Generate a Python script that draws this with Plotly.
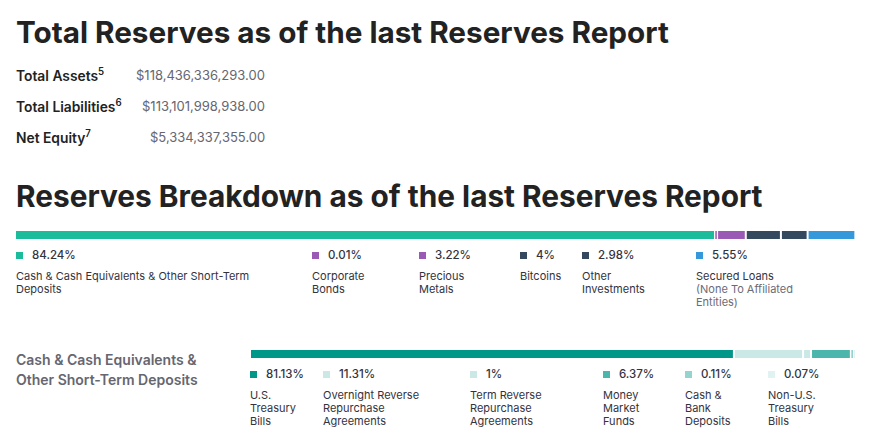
import numpy as np
import plotly.graph_objects as go

# page body has an 8px margin, so the figure is placed at (8, 8)
OFF = 8
W, H = 875 - 2 * OFF, 446 - 2 * OFF

# ---------------- data ----------------
summary_labels = ["Total Assets", "Total Liabilities", "Net Equity"]
summary_notes = ["5", "6", "7"]
summary_values = ["$118,436,336,293.00", "$113,101,998,938.00", "$5,334,337,355.00"]

breakdown_labels = [
    "Cash & Cash Equivalents & Other Short-Term\nDeposits",
    "Corporate\nBonds",
    "Precious\nMetals",
    "Bitcoins",
    "Other\nInvestments",
    "Secured Loans\n(None To Affiliated\nEntities)",
]
breakdown_values = [84.24, 0.01, 3.22, 4, 2.98, 5.55]

cash_labels = [
    "U.S.\nTreasury\nBills",
    "Overnight Reverse\nRepurchase\nAgreements",
    "Term Reverse\nRepurchase\nAgreements",
    "Money\nMarket\nFunds",
    "Cash &\nBank\nDeposits",
    "Non-U.S.\nTreasury\nBills",
]
cash_values = [81.13, 11.31, 1, 6.37, 0.11, 0.07]

# ---------------- styles ----------------
breakdown_colors = ["#1abc9c", "#9b59b6", "#9b59b6", "#34495e", "#34495e", "#3498db"]
cash_colors = ["#009688", "#c9e8e6", "#c9e8e6", "#4db6ac", "#95d3ce", "#e0f2f1"]
breakdown_legend_x = [16, 312, 419, 520, 582, 696]
cash_legend_x = [250, 323, 470, 603, 685, 768]

FONT = "Inter"
DARK = "#222222"
TEXT = "#333340"
GRAY = "#666670"
GAP_PX = 2  # white gap between bar segments


def py(y):
    return 1 - (y - OFF) / H


def px(x):
    return (x - OFF) / W


fig = go.Figure()
layout_axes = {}


def seg_bar(values, labels, colors, ax, x0_px, fill_px, y_top, y_bot):
    """Segmented bar: segments are proportional, separated by fixed pixel gaps."""
    xa = "x" if ax == 1 else f"x{ax}"
    ya = "y" if ax == 1 else f"y{ax}"
    gap_u = GAP_PX / fill_px * 100.0
    n = len(values)
    vals = np.array(values, dtype=float)
    bases = np.concatenate([[0], np.cumsum(vals)[:-1]]) + np.arange(n) * gap_u
    total_u = 100.0 + (n - 1) * gap_u
    total_px = fill_px + (n - 1) * GAP_PX
    for lab, v, b, c in zip(labels, vals, bases, colors):
        tiny = v < 0.5
        fig.add_trace(go.Bar(
            x=[v], base=[b], y=[0], orientation="h", xaxis=xa, yaxis=ya,
            marker=dict(color=c, line=dict(color=c, width=1 if tiny else 0)),
            width=1, name=lab.replace("\n", " "), showlegend=False,
            hovertemplate="%{x}%<extra>" + lab.replace("\n", " ") + "</extra>",
        ))
    common = dict(showgrid=False, zeroline=False, showticklabels=False, fixedrange=True)
    key = "" if ax == 1 else str(ax)
    layout_axes["xaxis" + key] = dict(domain=[px(x0_px), px(x0_px + total_px)],
                                      range=[0, total_u], anchor=ya, **common)
    layout_axes["yaxis" + key] = dict(domain=[py(y_bot), py(y_top)],
                                      range=[-0.5, 0.5], anchor=xa, **common)


seg_bar(breakdown_values, breakdown_labels, breakdown_colors, 1, 16, 828.6, 231, 239)
seg_bar(cash_values, cash_labels, cash_colors, 2, 251, 594, 350, 358)

ann = []
shapes = []


def text(x, y, s, size=11, color=TEXT, weight=400, anchor="left"):
    ann.append(dict(
        x=px(x), y=py(y), xref="paper", yref="paper", text=s, showarrow=False,
        xanchor=anchor, yanchor="middle", borderpad=0, borderwidth=0,
        font=dict(family=FONT, size=size, color=color, weight=weight),
    ))


# titles
text(16, 32, "Total Reserves as of the last Reserves Report", size=29.7, color=DARK, weight=700)
text(16, 196, "Reserves Breakdown as of the last Reserves Report", size=29.8, color=DARK, weight=700)

# summary rows
for i, (l, n, v) in enumerate(zip(summary_labels, summary_notes, summary_values)):
    y = 75 + i * 31
    text(16, y, f"{l}<sup>{n}</sup>", size=13.8, color=DARK, weight=600)
    text(265, y, v, size=13, color=GRAY, anchor="right")


def legend(xs, labels, values, colors, sq_y, pct_y, line_y0, pct_dx):
    for x, l, v, c in zip(xs, labels, values, colors):
        shapes.append(dict(type="rect", xref="paper", yref="paper",
                           x0=px(x), x1=px(x + 7), y0=py(sq_y + 7), y1=py(sq_y),
                           fillcolor=c, line=dict(width=0)))
        text(x + pct_dx, pct_y, f"{v:g}%", size=11.5, color=TEXT, weight=500)
        for j, line in enumerate(l.split("\n")):
            col = TEXT
            if line.startswith("(") or line.startswith("Entities"):
                col = "#6b6b78"
            text(x, line_y0 + 13 * j, line, size=11, color=col)


legend(breakdown_legend_x, breakdown_labels, breakdown_values, breakdown_colors, 252, 255, 276, 16)
legend(cash_legend_x, cash_labels, cash_values, cash_colors, 371, 374, 395, 16)

# section label
text(16, 359, "Cash & Cash Equivalents &", size=14, color=GRAY, weight=600)
text(16, 379, "Other Short-Term Deposits", size=14, color=GRAY, weight=600)

fig.update_layout(
    width=W, height=H, autosize=False,
    margin=dict(l=0, r=0, t=0, b=0),
    paper_bgcolor="white", plot_bgcolor="white",
    barmode="overlay",
    annotations=ann, shapes=shapes,
    font=dict(family=FONT),
    **layout_axes,
)

fig.write_html("out.html")
